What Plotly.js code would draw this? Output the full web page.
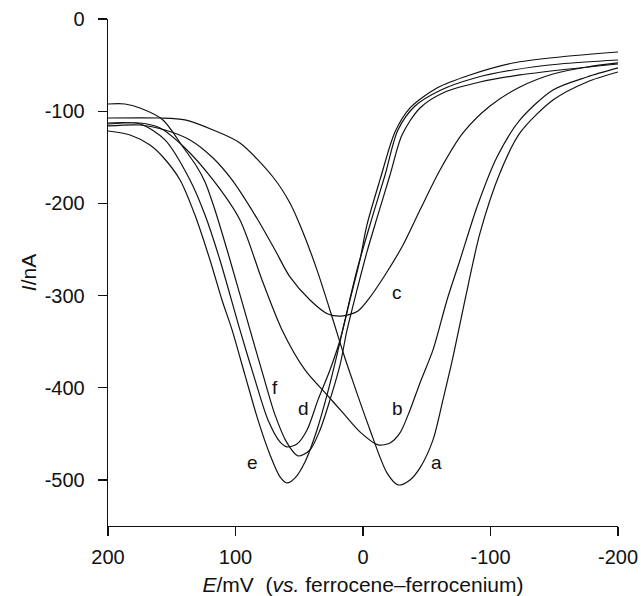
<!DOCTYPE html>
<html>
<head>
<meta charset="utf-8">
<script src="https://cdn.plot.ly/plotly-3.0.1.min.js"></script>
<style>html,body{margin:0;padding:0;background:#fff;}#chart{width:641px;height:596px;}</style>
</head>
<body>
<div id="chart"></div>
<script>
// Potential E (mV) and current I (nA) for each voltammogram
const aE = [200, 159.2, 139.6, 117.6, 96.5, 70.6, 57.3, 47.8, 36.1, 23.5, 15.7, 7.8, -5.5, -18.8, -27.4, -36.9, -44.7, -54.9, -62.7, -70.6, -80, -91.8, -107.4, -123.1, -149, -175.7, -200];
const aI = [-107.4, -107.4, -109.5, -120.4, -134.5, -171.4, -199.6, -228.9, -272.2, -326.5, -361.2, -393.7, -445.8, -492.4, -505.4, -500, -487, -456.6, -413.2, -366.6, -304.8, -232.1, -167, -123.6, -87.9, -68.3, -57.5];

const bE = [200, 174.9, 159.2, 139.6, 117.6, 96.5, 79.2, 63.5, 45.5, 28.2, 15.7, 2.4, -11.8, -21.2, -29, -36.9, -44.7, -54.9, -65.9, -76.1, -89.4, -105.1, -123.1, -149, -175.7, -200];
const bI = [-113.9, -112.8, -118.2, -139.9, -174.6, -218, -283.1, -337.3, -380.7, -407.8, -427.3, -447.9, -462, -459.9, -449, -424.1, -394.8, -359, -304.8, -261.4, -203.9, -149.7, -109.5, -77, -62.9, -53.1];

const cE = [200, 174.9, 155.3, 135.7, 117.6, 102.7, 82.4, 69, 57.3, 41.6, 27.5, 15.7, 3.9, -3.9, -17.3, -31.4, -44.7, -60.4, -78.4, -99.6, -123.1, -149, -175.7, -200];
const cI = [-116, -115, -120.4, -131.2, -150.8, -174.6, -218, -250.5, -279.8, -304.8, -320, -322.1, -316.7, -304.8, -277.7, -245.1, -207.2, -163.8, -123.6, -94.4, -73.8, -59.7, -52.1, -47.7];

const dE = [200, 186.7, 174.9, 156.9, 141.2, 130.2, 123.9, 116.1, 104.3, 88.6, 78.4, 69, 59.6, 51, 41.6, 33.7, 25.9, 18, 12.5, 4.7, -3.1, -11, -21.2, -30.6, -44.7, -64.3, -91.8, -123.1, -154.5, -200];
const dI = [-92.2, -92.2, -96.5, -109.5, -138.8, -160.5, -176.8, -207.2, -261.4, -337.3, -386.1, -429.5, -459.9, -474, -467.5, -445.8, -413.2, -375.3, -337.3, -293.9, -252.7, -215.8, -169.2, -125.8, -96.5, -79.2, -68.3, -60.7, -55.3, -48.8];

const eE = [200, 182.7, 167.1, 156.9, 143.5, 131.8, 120, 110.6, 102.7, 92.6, 82.4, 72.9, 65.1, 59.6, 53.3, 45.5, 36.1, 28.2, 20.4, 14.1, 4.7, -7.1, -17.3, -27.4, -40.8, -61.2, -87.8, -117.6, -154.5, -200];
const eI = [-121.5, -125.8, -136.7, -149.7, -174.6, -212.6, -261.4, -304.8, -337.3, -386.1, -434.9, -472.9, -496.7, -503.3, -497.8, -480.5, -445.8, -407.8, -364.4, -326.5, -272.2, -215.8, -169.2, -120.4, -94.4, -77, -64, -55.3, -48.8, -44.5];

const fE = [200, 174.9, 155.3, 135.7, 123.9, 112.2, 96.5, 84.7, 74.5, 65.1, 59.6, 51.8, 43.9, 35.3, 25.9, 18, 10.2, 2.4, -3.1, -13.3, -25.1, -36.9, -58, -83.9, -117.6, -154.5, -200];
const fI = [-112.8, -113.9, -131.2, -174.6, -212.6, -261.4, -337.3, -391.5, -434.9, -458.8, -464.2, -461, -445.8, -413.2, -380.7, -348.2, -304.8, -261.4, -223.4, -174.6, -122.6, -96.5, -74.8, -60.7, -47.7, -41.2, -35.8];

// Curve labels and their positions
const labelText = ['a', 'b', 'c', 'd', 'e', 'f'];
const labelE = [-58, -26.7, -26.7, 47, 87, 69];
const labelI = [-481, -422, -297, -422, -481, -400];

const xTicks = [200, 100, 0, -100, -200];
const yTicks = [0, -100, -200, -300, -400, -500];

const series = [[aE, aI], [bE, bI], [cE, cI], [dE, dI], [eE, eI], [fE, fI]];
const traces = series.map((s, i) => ({
  x: s[0], y: s[1], type: 'scatter', mode: 'lines', name: labelText[i],
  line: {color: '#111', width: 1.2, shape: 'spline', smoothing: 0.8},
  hoverinfo: 'skip', showlegend: false
}));

const FONT = 'Liberation Sans, Arial, Helvetica, sans-serif';
const annotations = labelText.map((t, i) => ({
  x: labelE[i], y: labelI[i], text: t, showarrow: false, xref: 'x', yref: 'y',
  font: {family: FONT, size: 19, color: '#111'}
}));

const layout = {
  width: 641, height: 596,
  margin: {l: 108, r: 23, t: 19, b: 70, pad: 0},
  paper_bgcolor: '#fff', plot_bgcolor: '#fff',
  showlegend: false,
  font: {family: FONT, size: 20, color: '#111'},
  xaxis: {
    range: [200, -200], autorange: false,
    tickvals: xTicks, ticktext: xTicks.map(String),
    ticks: 'outside', ticklen: 9, tickwidth: 1.2, tickcolor: '#111',
    ticklabelstandoff: 4,
    showline: true, linecolor: '#111', linewidth: 1.3,
    showgrid: false, zeroline: false,
    tickfont: {family: FONT, size: 20, color: '#111'},
    title: {text: '<i>E</i>/mV\u00a0\u00a0(<i>vs.</i> ferrocene\u2013ferrocenium)', font: {family: FONT, size: 21, color: '#111'}, standoff: 11}
  },
  yaxis: {
    range: [-550, 0], autorange: false,
    tickvals: yTicks, ticktext: yTicks.map(String),
    ticks: 'outside', ticklen: 9, tickwidth: 1.2, tickcolor: '#111',
    ticklabelstandoff: 9,
    showline: true, linecolor: '#111', linewidth: 1.3,
    showgrid: false, zeroline: false,
    tickfont: {family: FONT, size: 20, color: '#111'},
    title: {text: '<i>I</i>/nA', font: {family: FONT, size: 21, color: '#111'}, standoff: 2}
  },
  annotations: annotations
};

Plotly.newPlot('chart', traces, layout, {displayModeBar: false, staticPlot: true});
</script>
</body>
</html>
